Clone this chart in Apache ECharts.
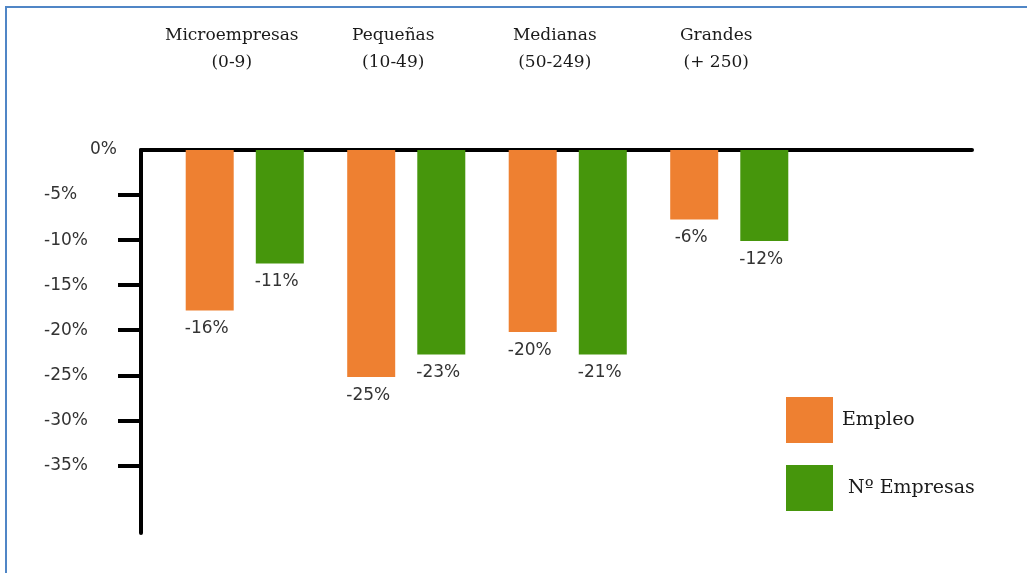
<!DOCTYPE html>
<html>
<head>
<meta charset="utf-8">
<script src="https://cdn.jsdelivr.net/npm/echarts@6/dist/echarts.min.js"></script>
<style>
  html, body { margin: 0; padding: 0; background: #fff; }
  #wrap { position: relative; width: 1027px; height: 573px; }
  #chart { position: absolute; left: 0; top: 0; width: 1027px; height: 573px; }
  #frame { position: absolute; left: 5px; top: 6px; width: 1022px; height: 567px;
           border-top: 2px solid #5086C6; border-left: 2px solid #5086C6; box-sizing: border-box; pointer-events: none; }
</style>
</head>
<body>
<div id="wrap"><div id="chart"></div><div id="frame"></div></div>
<script>
// ---- data ----
const categories = ['Microempresas\n(0-9)', 'Pequeñas\n(10-49)', 'Medianas\n(50-249)', 'Grandes\n(+ 250)'];
const seriesNames = ['Empleo', 'Nº Empresas'];
const empleoValues = [-17.8, -25.2, -20.2, -7.7];
const empresasValues = [-12.6, -22.7, -22.7, -10.1];
const empleoLabels = ['-16%', '-25%', '-20%', '-6%'];
const empresasLabels = ['-11%', '-23%', '-21%', '-12%'];
const yTickValues = [0, -5, -10, -15, -20, -25, -30, -35];

const chart = echarts.init(document.getElementById('chart'), null, { renderer: 'canvas' });
const sans = 'DejaVu Sans';
const serif = 'DejaVu Serif';
const orange = '#EE8031';
const green = '#46960C';

const barLabel = (arr) => ({
  show: true,
  position: 'bottom',
  distance: 10,
  offset: [-3, 0],
  fontFamily: sans,
  fontSize: 17,
  color: '#333',
  formatter: (p) => arr[p.dataIndex]
});

chart.setOption({
  backgroundColor: '#fff',
  animation: false,
  grid: [
    { left: 164, width: 646, top: 150, bottom: 40 },
    { left: 141, right: 55, top: 150, bottom: 40 }
  ],
  legend: {
    orient: 'vertical',
    left: 786,
    top: 397,
    padding: 0,
    itemWidth: 47,
    itemHeight: 46,
    itemGap: 22,
    icon: 'rect',
    data: seriesNames,
    formatter: (n) => (n === 'Nº Empresas' ? ' ' + n : n),
    textStyle: { fontFamily: serif, fontSize: 19, color: '#1a1a1a', padding: [6, 0, 0, 4] }
  },
  xAxis: [
    {
      gridIndex: 0,
      type: 'category',
      position: 'top',
      data: categories,
      axisLine: { show: false },
      axisTick: { show: false },
      axisLabel: {
        interval: 0,
        margin: 74,
        fontFamily: serif,
        fontSize: 17,
        lineHeight: 27,
        color: '#1a1a1a',
        padding: [0, 26, 0, 0]
      }
    },
    {
      gridIndex: 1,
      type: 'value',
      position: 'top',
      min: 0,
      max: 1,
      axisLine: { show: true, onZero: false, lineStyle: { color: '#000', width: 4 } },
      axisTick: { show: false },
      axisLabel: { show: false },
      splitLine: { show: false }
    }
  ],
  yAxis: [
    {
      gridIndex: 0,
      type: 'value',
      min: -42.5,
      max: 0,
      show: false,
      splitLine: { show: false }
    },
    {
      gridIndex: 1,
      type: 'value',
      min: -42.5,
      max: 0,
      interval: 2.5,
      axisLine: { show: true, onZero: false, lineStyle: { color: '#000', width: 4 } },
      axisTick: {
        show: true,
        length: 23,
        customValues: yTickValues.filter(v => v !== 0),
        lineStyle: { color: '#000', width: 4 }
      },
      axisLabel: {
        show: true,
        customValues: yTickValues,
        align: 'left',
        margin: 97,
        fontFamily: sans,
        fontSize: 17,
        color: '#333',
        formatter: (v) => (v === 0 ? '{z|0%}' : v + '%'),
        rich: { z: { fontFamily: sans, fontSize: 17, color: '#333', padding: [0, 0, 0, 46] } }
      },
      splitLine: { show: false }
    }
  ],
  series: [
    {
      name: seriesNames[0],
      type: 'bar',
      xAxisIndex: 0,
      yAxisIndex: 0,
      data: empleoValues,
      barWidth: 48,
      barGap: '46%',
      itemStyle: { color: orange },
      label: barLabel(empleoLabels)
    },
    {
      name: seriesNames[1],
      type: 'bar',
      xAxisIndex: 0,
      yAxisIndex: 0,
      data: empresasValues,
      barWidth: 48,
      barGap: '46%',
      itemStyle: { color: green },
      label: barLabel(empresasLabels)
    }
  ]
});
</script>
</body>
</html>
